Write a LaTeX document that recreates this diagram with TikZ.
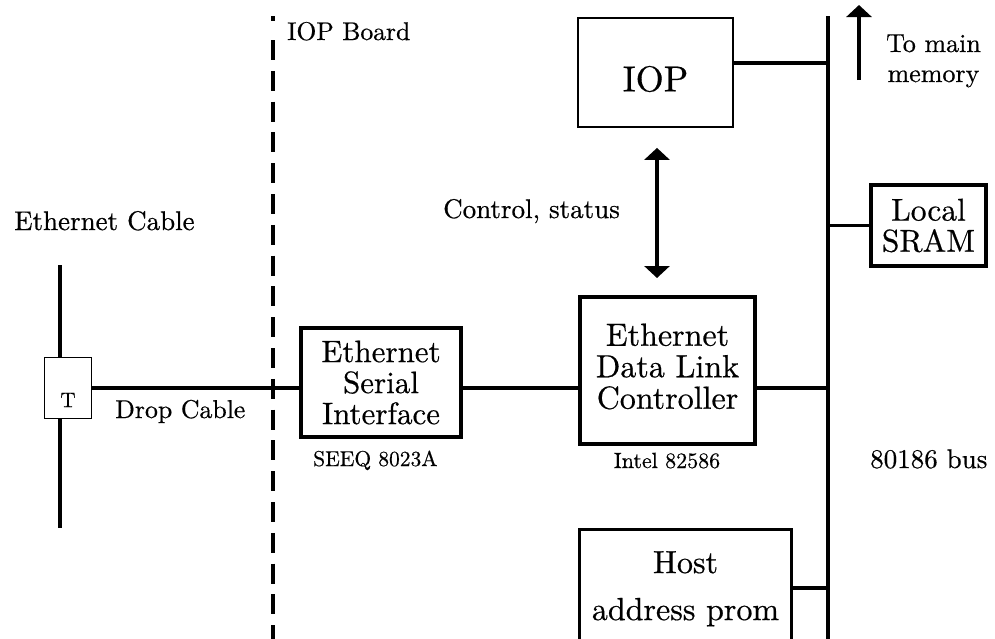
\documentclass[tikz,border=0pt]{standalone}
\usepackage{fontspec}
\setmainfont{lmroman10-regular}[Extension=.otf, FakeBold=0.5]
\usetikzlibrary{arrows.meta}
\newcommand\myfs[2]{\fontsize{#1}{#2}\selectfont}
\begin{document}
\begin{tikzpicture}[x=1pt,y=-1pt,
  thickbox/.style={draw, line width=4pt, fill=white, align=center, inner sep=0pt},
  thinbox/.style={draw, line width=1.8pt, fill=white, align=center, inner sep=0pt},
  wire/.style={line width=3.2pt},
  buswire/.style={line width=4pt},
  lbl/.style={inner sep=0pt},
  bigtip/.tip={Triangle[length=12pt,width=25pt]},
]
\useasboundingbox (0,0) rectangle (995,638);
\clip (0,0) rectangle (995,638);

% boundary of the board
\coordinate (dashtop) at (273,40);
\coordinate (dashbot) at (273,660);
\draw[line width=4.5pt, dash pattern=on 20pt off 10.8pt] (dashtop) -- (dashbot);
\coordinate (dotA) at (273,16);
\coordinate (dotB) at (273,20.5);
\draw[line width=4.5pt] (dotA) -- (dotB);
\node[lbl, anchor=base west, font=\myfs{25.6}{28}] (board) at (287,40) {IOP Board};

% ethernet cable and tap
\node[lbl, anchor=base west, font=\myfs{27}{30}] (cablelbl) at (14,230) {Ethernet Cable};
\coordinate (cabletop) at (60,265);
\coordinate (cablebot) at (60,528);
\node[thinbox, minimum width=47pt, minimum height=61pt] (tap) at (68,388) {};
\node[lbl, font=\myfs{21}{21}] (tlbl) at (68,400) {T};
\draw[wire] (cabletop) -- (cabletop |- tap.north);
\draw[wire] (cabletop |- tap.south) -- (cablebot);
\node[lbl, anchor=base west, font=\myfs{25.8}{28}] (droplbl) at (115,418) {Drop Cable};

% boxes
\node[thickbox, minimum width=160pt, minimum height=109pt, font=\myfs{31}{31}] (esi) at (381,382.5) {Ethernet\\Serial\\Interface};
\node[lbl, anchor=base west, font=\myfs{21.5}{24}] (seeq) at (313,466) {SEEQ 8023A};

\node[thickbox, minimum width=175pt, minimum height=147pt] (edlc) at (667.5,370.5) {};
\node[lbl, align=center, font=\myfs{32}{31.5}] (edlclbl) at (667.5,366.5) {Ethernet\\Data Link\\Controller};
\node[lbl, anchor=base, font=\myfs{22}{24}] (intel) at (667,468) {Intel 82586};

\node[thinbox, minimum width=155pt, minimum height=109pt] (iop) at (655.5,72.5) {};
\node[lbl, font=\myfs{36}{38}] (ioplbl) at (655.5,79) {IOP};

\node[draw, line width=3.6pt, fill=white, align=center, inner sep=0pt, minimum width=115pt, minimum height=81pt, font=\myfs{31.5}{31}] (sram) at (928.5,225.5) {Local\\SRAM};

\node[draw, line width=3.2pt, fill=white, inner sep=0pt, minimum width=212pt, minimum height=160pt, anchor=north] (host) at (685.5,527.5) {};
\node[lbl, align=center, anchor=north, font=\myfs{32}{47}] (hostlbl) at (685.5,551) {Host\\address prom};

% bus
\coordinate (bustop) at (828,16);
\coordinate (busbot) at (828,660);
\draw[buswire] (bustop) -- (busbot);
\node[lbl, anchor=base west, font=\myfs{27}{30}] (buslbl) at (870,468) {80186 bus};

% connections
\draw[wire] (tap.east) -- (esi.west |- tap);
\draw[wire] (esi.east |- tap) -- (edlc.west |- tap);
\draw[wire] (edlc.east |- tap) -- (bustop |- tap);
\draw[wire] ([yshift=9.5pt]iop.east) -- ([yshift=9.5pt]iop.east -| bustop);
\draw[wire] (sram.west) -- (sram.west -| bustop);
\draw[wire] ([yshift=-60.5pt]host.north east) -- ([yshift=-60.5pt]host.north east -| bustop);

% control / status
\coordinate (ctltop) at ([xshift=1.5pt,yshift=-20pt]iop.south);
\coordinate (ctlbot) at ([yshift=17pt]edlc.north);
\draw[wire, bigtip-bigtip] (ctltop) -- (ctltop |- ctlbot);
\node[lbl, anchor=base west, font=\myfs{27}{30}] (ctrl) at (443,218) {Control, status};

% to main memory
\coordinate (memfrom) at (859,80);
\coordinate (memto) at (859,5);
\draw[wire, -bigtip] (memfrom) -- (memto);
\node[lbl, anchor=base, font=\myfs{26}{30}] (mem1) at (933.5,52) {To main};
\node[lbl, anchor=base, font=\myfs{26}{30}] (mem2) at (933.5,82) {memory};
\end{tikzpicture}
\end{document}
